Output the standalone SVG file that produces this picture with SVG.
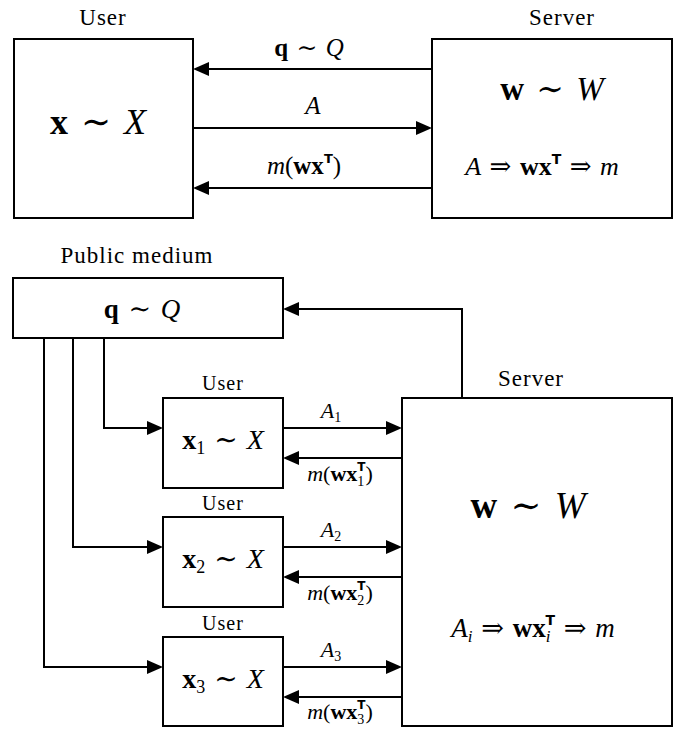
<svg xmlns="http://www.w3.org/2000/svg" width="681" height="729" viewBox="0 0 681 729">
  <style>
    .box { fill: #fff; stroke: #000; stroke-width: 2; }
    .wire { fill: none; stroke: #000; stroke-width: 2; }
    text { font-family: "Liberation Serif", "DejaVu Serif", serif; fill: #000; text-anchor: middle; }
    .lbl { letter-spacing: 1px; }
    .b { font-weight: bold; }
    .i { font-style: italic; }
    .tp { font-family: "DejaVu Sans", "Liberation Sans", sans-serif; font-weight: bold; }
  </style>
  <defs>
    <marker id="head" markerUnits="userSpaceOnUse" markerWidth="16" markerHeight="14" refX="6" refY="7" orient="auto">
      <path d="M0,0 L16,7 L0,14 Z" fill="#000"/>
    </marker>
  </defs>
  <rect width="681" height="729" fill="#fff"/>

  <!-- Single user / server exchange -->
  <g id="user-top">
    <text class="lbl" x="103" y="25" font-size="23">User</text>
    <rect class="box" x="14" y="39" width="179" height="179"/>
    <text x="98" y="134" font-size="36"><tspan class="b">x</tspan><tspan dx="4"> ∼ </tspan><tspan class="i" dx="4">X</tspan></text>
  </g>
  <g id="server-top">
    <text class="lbl" x="562" y="25" font-size="23">Server</text>
    <rect class="box" x="432" y="39" width="240" height="179"/>
    <text x="552" y="100" font-size="33"><tspan class="b">w</tspan><tspan dx="4"> ∼ </tspan><tspan class="i" dx="4">W</tspan></text>
    <text x="542" y="175" font-size="26"><tspan class="i">A</tspan><tspan dx="2"> ⇒ </tspan><tspan class="b" dx="2">wx</tspan><tspan class="tp" font-size="14" dy="-11">T</tspan><tspan dy="11" dx="2"> ⇒ </tspan><tspan class="i" dx="2">m</tspan></text>
  </g>

  <!-- Shared medium and multiple users -->
  <g id="public-medium">
    <text class="lbl" x="137" y="263" font-size="23" letter-spacing="1.5">Public medium</text>
    <rect class="box" x="13" y="278" width="270" height="60"/>
    <text x="142" y="318" font-size="27"><tspan class="b">q</tspan><tspan dx="3"> ∼ </tspan><tspan class="i" dx="3">Q</tspan></text>
  </g>
  <g id="user-1">
    <text class="lbl" x="223" y="390" font-size="20">User</text>
    <rect class="box" x="163" y="398" width="120" height="90"/>
    <text x="223" y="449" font-size="28"><tspan class="b">x</tspan><tspan font-size="18" dy="5">1</tspan><tspan dy="-5" dx="2"> ∼ </tspan><tspan class="i" dx="2">X</tspan></text>
  </g>
  <g id="user-2">
    <text class="lbl" x="223" y="510" font-size="20">User</text>
    <rect class="box" x="163" y="517" width="120" height="90"/>
    <text x="223" y="568" font-size="28"><tspan class="b">x</tspan><tspan font-size="18" dy="5">2</tspan><tspan dy="-5" dx="2"> ∼ </tspan><tspan class="i" dx="2">X</tspan></text>
  </g>
  <g id="user-3">
    <text class="lbl" x="223" y="630" font-size="20">User</text>
    <rect class="box" x="163" y="637" width="120" height="89"/>
    <text x="223" y="688" font-size="28"><tspan class="b">x</tspan><tspan font-size="18" dy="5">3</tspan><tspan dy="-5" dx="2"> ∼ </tspan><tspan class="i" dx="2">X</tspan></text>
  </g>
  <g id="server-bottom">
    <text class="lbl" x="531" y="386" font-size="23">Server</text>
    <rect class="box" x="402" y="398" width="270" height="328"/>
    <text x="528" y="518" font-size="37"><tspan class="b">w</tspan><tspan dx="4"> ∼ </tspan><tspan class="i" dx="4">W</tspan></text>
    <text x="533" y="637" font-size="27"><tspan class="i">A</tspan><tspan class="i" font-size="17" dy="5">i</tspan><tspan dy="-5" dx="2"> ⇒ </tspan><tspan class="b" dx="2">wx</tspan><tspan class="i" font-size="17" dy="5">i</tspan><tspan class="tp" font-size="14" dx="-5" dy="-17">T</tspan><tspan dy="12" dx="2"> ⇒ </tspan><tspan class="i" dx="2">m</tspan></text>
  </g>

  <g id="connectors">
    <!-- top exchange -->
    <path class="wire" d="M432,69 H203" marker-end="url(#head)"/>
    <path class="wire" d="M193,128 H422" marker-end="url(#head)"/>
    <path class="wire" d="M432,188 H203" marker-end="url(#head)"/>
    <!-- server back to public medium -->
    <path class="wire" d="M462,398 V309 H293" marker-end="url(#head)"/>
    <!-- public medium down to users -->
    <path class="wire" d="M104,338 V428 H153" marker-end="url(#head)"/>
    <path class="wire" d="M73,338 V547 H153" marker-end="url(#head)"/>
    <path class="wire" d="M44,338 V667 H153" marker-end="url(#head)"/>
    <!-- user/server exchanges -->
    <path class="wire" d="M283,428 H392" marker-end="url(#head)"/>
    <path class="wire" d="M402,458 H293" marker-end="url(#head)"/>
    <path class="wire" d="M283,547 H392" marker-end="url(#head)"/>
    <path class="wire" d="M402,577 H293" marker-end="url(#head)"/>
    <path class="wire" d="M283,667 H392" marker-end="url(#head)"/>
    <path class="wire" d="M402,697 H293" marker-end="url(#head)"/>
  </g>

  <g id="connector-labels">
    <text x="309" y="56" font-size="25"><tspan class="b">q</tspan><tspan dx="2"> ∼ </tspan><tspan class="i" dx="2">Q</tspan></text>
    <text x="313" y="114" font-size="25" class="i">A</text>
    <text x="304" y="174" font-size="25"><tspan class="i">m</tspan>(<tspan class="b">wx</tspan><tspan class="tp" font-size="13" dy="-11">T</tspan><tspan dy="11">)</tspan></text>
    <text x="331" y="418" font-size="22"><tspan class="i">A</tspan><tspan font-size="14" dy="4">1</tspan></text>
    <text x="340" y="481" font-size="22"><tspan class="i">m</tspan>(<tspan class="b">wx</tspan><tspan font-size="14" dy="5">1</tspan><tspan class="tp" font-size="12" dx="-7" dy="-15">T</tspan><tspan dy="10">)</tspan></text>
    <text x="331" y="537" font-size="22"><tspan class="i">A</tspan><tspan font-size="14" dy="4">2</tspan></text>
    <text x="340" y="600" font-size="22"><tspan class="i">m</tspan>(<tspan class="b">wx</tspan><tspan font-size="14" dy="5">2</tspan><tspan class="tp" font-size="12" dx="-7" dy="-15">T</tspan><tspan dy="10">)</tspan></text>
    <text x="331" y="657" font-size="22"><tspan class="i">A</tspan><tspan font-size="14" dy="4">3</tspan></text>
    <text x="340" y="719" font-size="22"><tspan class="i">m</tspan>(<tspan class="b">wx</tspan><tspan font-size="14" dy="5">3</tspan><tspan class="tp" font-size="12" dx="-7" dy="-15">T</tspan><tspan dy="10">)</tspan></text>
  </g>
</svg>
